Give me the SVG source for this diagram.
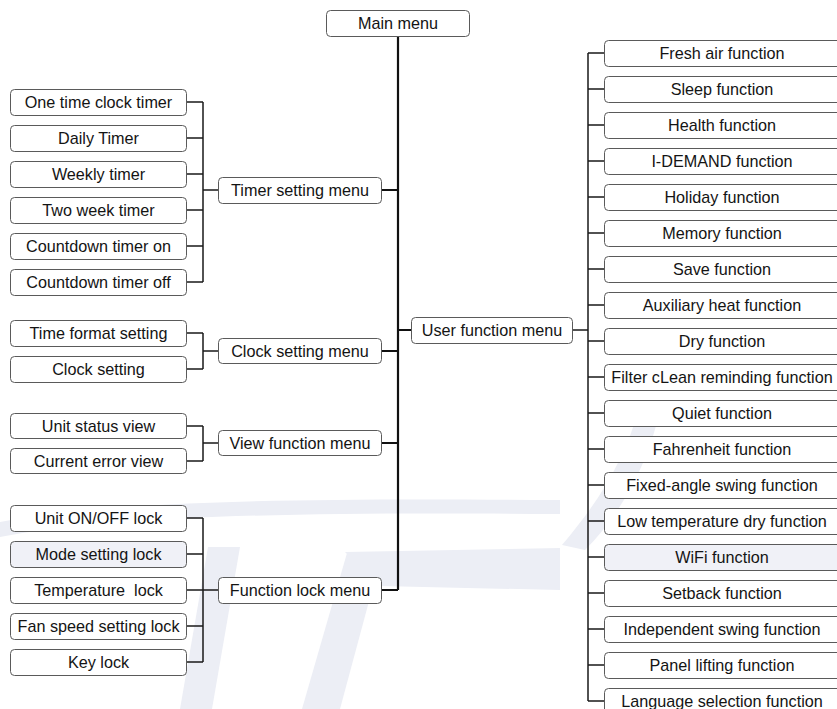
<svg xmlns="http://www.w3.org/2000/svg" width="837" height="709" viewBox="0 0 837 709">
<style>
.box{fill:#ffffff;stroke:#5a5a5a;stroke-width:1}
.tint{fill:#f0f1f7}
.lbl{font-family:"Liberation Sans",Arial,sans-serif;font-size:16.2px;fill:#141414;text-anchor:middle;white-space:pre}
.ln{stroke:#1a1a1a;stroke-width:1.5;fill:none}
.trunk{stroke:#111;stroke-width:2.2;fill:none}
.wm{fill:#eceef5}
</style>
<rect width="837" height="709" fill="#ffffff"/>
<g id="watermark">
<path class="wm" d="M0,522 C120,500 300,498 560,500 L560,514 C300,512 120,515 0,537 Z"/>
<path class="wm" d="M345,552 L560,548 L560,590 L380,586 Z"/>
<path class="wm" d="M347,553 L382,553 L340,709 L302,709 Z"/>
<path class="wm" d="M208,547 L240,547 L212,709 L180,709 Z"/>
<path class="wm" d="M562,545 C600,500 625,460 640,405 L660,410 C648,465 620,515 585,550 Z"/>
</g>
<g id="connectors">
<path class="trunk" d="M398,36 V590 M382,190 H398 M382,351 H398 M382,443 H398 M382,590 H398 M398,330 H411"/>
<path class="ln" d="M187,102 H203 M187,138 H203 M187,174 H203 M187,210 H203 M187,246 H203 M187,282 H203 M203,102 V282 M203,190 H218"/>
<path class="ln" d="M187,333 H203 M187,369 H203 M203,333 V369 M203,351 H218"/>
<path class="ln" d="M187,426 H203 M187,461 H203 M203,426 V461 M203,443 H218"/>
<path class="ln" d="M187,518 H203 M187,554 H203 M187,590 H203 M187,626 H203 M187,662 H203 M203,518 V662 M203,590 H218"/>
<path class="ln" d="M573,330 H588 M588,53 V701"/>
<path class="ln" d="M588,53 H604 M588,89 H604 M588,125 H604 M588,161 H604 M588,197 H604 M588,233 H604 M588,269 H604 M588,305 H604 M588,341 H604 M588,377 H604 M588,413 H604 M588,449 H604 M588,485 H604 M588,521 H604 M588,557 H604 M588,593 H604 M588,629 H604 M588,665 H604 M588,701 H604"/>
</g>
<g id="main-menu"><rect class="box" x="326.5" y="10.5" width="143" height="26" rx="4"/><text class="lbl" x="398" y="29">Main menu</text></g>

<g id="timer-menu"><rect class="box" x="218.5" y="177.5" width="163" height="26" rx="4"/><text class="lbl" x="300" y="196">Timer setting menu</text></g>
<g id="clock-menu"><rect class="box" x="218.5" y="338.5" width="163" height="25" rx="4"/><text class="lbl" x="300" y="357">Clock setting menu</text></g>
<g id="view-menu"><rect class="box" x="218.5" y="430.5" width="163" height="25" rx="4"/><text class="lbl" x="300" y="449">View function menu</text></g>
<g id="lock-menu"><rect class="box" x="218.5" y="577.5" width="163" height="26" rx="4"/><text class="lbl" x="300" y="596">Function lock menu</text></g>
<g id="user-menu"><rect class="box" x="411.5" y="317.5" width="161" height="26" rx="4"/><text class="lbl" x="492" y="336">User function menu</text></g>

<g id="t1"><rect class="box" x="10.5" y="89.5" width="176" height="26" rx="4"/><text class="lbl" x="98.5" y="108">One time clock timer</text></g>
<g id="t2"><rect class="box" x="10.5" y="125.5" width="176" height="26" rx="4"/><text class="lbl" x="98.5" y="144">Daily Timer</text></g>
<g id="t3"><rect class="box" x="10.5" y="161.5" width="176" height="26" rx="4"/><text class="lbl" x="98.5" y="180">Weekly timer</text></g>
<g id="t4"><rect class="box" x="10.5" y="197.5" width="176" height="26" rx="4"/><text class="lbl" x="98.5" y="216">Two week timer</text></g>
<g id="t5"><rect class="box" x="10.5" y="233.5" width="176" height="26" rx="4"/><text class="lbl" x="98.5" y="252">Countdown timer on</text></g>
<g id="t6"><rect class="box" x="10.5" y="269.5" width="176" height="26" rx="4"/><text class="lbl" x="98.5" y="288">Countdown timer off</text></g>

<g id="c1"><rect class="box" x="10.5" y="320.5" width="176" height="26" rx="4"/><text class="lbl" x="98.5" y="339">Time format setting</text></g>
<g id="c2"><rect class="box" x="10.5" y="356.5" width="176" height="26" rx="4"/><text class="lbl" x="98.5" y="375">Clock setting</text></g>

<g id="v1"><rect class="box" x="10.5" y="413.5" width="176" height="25" rx="4"/><text class="lbl" x="98.5" y="432">Unit status view</text></g>
<g id="v2"><rect class="box" x="10.5" y="448.5" width="176" height="25" rx="4"/><text class="lbl" x="98.5" y="467">Current error view</text></g>

<g id="l1"><rect class="box" x="10.5" y="505.5" width="176" height="26" rx="4"/><text class="lbl" x="98.5" y="524">Unit ON/OFF lock</text></g>
<g id="l2"><rect class="box tint" x="10.5" y="541.5" width="176" height="26" rx="4"/><text class="lbl" x="98.5" y="560">Mode setting lock</text></g>
<g id="l3"><rect class="box" x="10.5" y="577.5" width="176" height="26" rx="4"/><text class="lbl" x="98.5" y="596" xml:space="preserve">Temperature  lock</text></g>
<g id="l4"><rect class="box" x="10.5" y="613.5" width="176" height="26" rx="4"/><text class="lbl" x="98.5" y="632">Fan speed setting lock</text></g>
<g id="l5"><rect class="box" x="10.5" y="649.5" width="176" height="26" rx="4"/><text class="lbl" x="98.5" y="668">Key lock</text></g>

<g id="u1"><rect class="box" x="604.5" y="40.5" width="240" height="26" rx="4"/><text class="lbl" x="722" y="59">Fresh air function</text></g>
<g id="u2"><rect class="box" x="604.5" y="76.5" width="240" height="26" rx="4"/><text class="lbl" x="722" y="95">Sleep function</text></g>
<g id="u3"><rect class="box" x="604.5" y="112.5" width="240" height="26" rx="4"/><text class="lbl" x="722" y="131">Health function</text></g>
<g id="u4"><rect class="box" x="604.5" y="148.5" width="240" height="26" rx="4"/><text class="lbl" x="722" y="167">I-DEMAND function</text></g>
<g id="u5"><rect class="box" x="604.5" y="184.5" width="240" height="26" rx="4"/><text class="lbl" x="722" y="203">Holiday function</text></g>
<g id="u6"><rect class="box" x="604.5" y="220.5" width="240" height="26" rx="4"/><text class="lbl" x="722" y="239">Memory function</text></g>
<g id="u7"><rect class="box" x="604.5" y="256.5" width="240" height="26" rx="4"/><text class="lbl" x="722" y="275">Save function</text></g>
<g id="u8"><rect class="box" x="604.5" y="292.5" width="240" height="26" rx="4"/><text class="lbl" x="722" y="311">Auxiliary heat function</text></g>
<g id="u9"><rect class="box" x="604.5" y="328.5" width="240" height="26" rx="4"/><text class="lbl" x="722" y="347">Dry function</text></g>
<g id="u10"><rect class="box" x="604.5" y="364.5" width="240" height="26" rx="4"/><text class="lbl" x="722" y="383">Filter cLean reminding function</text></g>
<g id="u11"><rect class="box" x="604.5" y="400.5" width="240" height="26" rx="4"/><text class="lbl" x="722" y="419">Quiet function</text></g>
<g id="u12"><rect class="box" x="604.5" y="436.5" width="240" height="26" rx="4"/><text class="lbl" x="722" y="455">Fahrenheit function</text></g>
<g id="u13"><rect class="box" x="604.5" y="472.5" width="240" height="26" rx="4"/><text class="lbl" x="722" y="491">Fixed-angle swing function</text></g>
<g id="u14"><rect class="box" x="604.5" y="508.5" width="240" height="26" rx="4"/><text class="lbl" x="722" y="527">Low temperature dry function</text></g>
<g id="u15"><rect class="box tint" x="604.5" y="544.5" width="240" height="26" rx="4"/><text class="lbl" x="722" y="563">WiFi function</text></g>
<g id="u16"><rect class="box" x="604.5" y="580.5" width="240" height="26" rx="4"/><text class="lbl" x="722" y="599">Setback function</text></g>
<g id="u17"><rect class="box" x="604.5" y="616.5" width="240" height="26" rx="4"/><text class="lbl" x="722" y="635">Independent swing function</text></g>
<g id="u18"><rect class="box" x="604.5" y="652.5" width="240" height="26" rx="4"/><text class="lbl" x="722" y="671">Panel lifting function</text></g>
<g id="u19"><rect class="box" x="604.5" y="688.5" width="240" height="26" rx="4"/><text class="lbl" x="722" y="707">Language selection function</text></g>
</svg>
